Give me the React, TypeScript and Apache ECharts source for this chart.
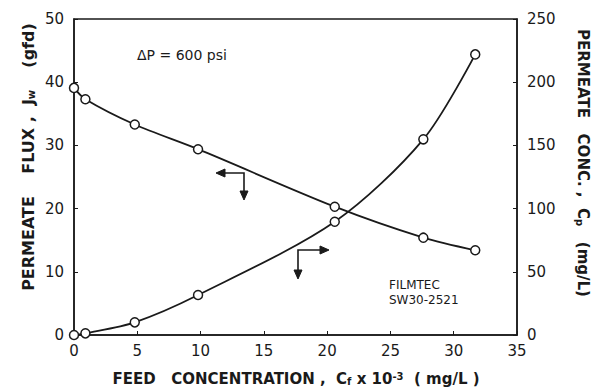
import React, { useEffect, useRef } from "react";
import * as echarts from "echarts";

const feedConc = [0, 0.9, 4.8, 9.8, 20.6, 27.6, 31.7];
const fluxValues = [39.1, 37.3, 33.3, 29.4, 20.3, 15.4, 13.4];
const permConcValues = [0, 1.3, 10, 31.6, 89.6, 154.8, 222];

const FONT = "DejaVu Sans";

export default function App() {
  const ref = useRef<HTMLDivElement>(null);
  useEffect(() => {
    if (!ref.current) return;
    const chart = echarts.init(ref.current, null, { renderer: "svg" });
    const fluxData = feedConc.map((x, i) => [x, fluxValues[i]]);
    const concData = feedConc.map((x, i) => [x, permConcValues[i]]);
    const black = "#1a1a1a";
    const head = (pts: number[][]) => ({
      type: "polygon",
      shape: { points: pts },
      style: { fill: black, stroke: black, lineWidth: 1 },
    });
    chart.setOption({
      animation: false,
      backgroundColor: "#ffffff",
      grid: {
        left: 74,
        right: 78,
        top: 19,
        bottom: 53,
        show: true,
        borderColor: black,
        borderWidth: 1.5,
        backgroundColor: "transparent",
      },
      xAxis: {
        type: "value",
        min: 0,
        max: 35,
        interval: 5,
        axisLine: { lineStyle: { color: black, width: 1.5 } },
        axisTick: { inside: true, length: 4, lineStyle: { color: black } },
        axisLabel: { color: black, fontFamily: FONT, fontSize: 15, margin: 8 },
        splitLine: { show: false },
      },
      yAxis: [
        {
          type: "value",
          min: 0,
          max: 50,
          interval: 10,
          axisLine: { show: true, lineStyle: { color: black, width: 1.5 } },
          axisTick: { show: true, inside: true, length: 4, lineStyle: { color: black } },
          axisLabel: { color: black, fontFamily: FONT, fontSize: 15, margin: 10 },
          splitLine: { show: false },
        },
        {
          type: "value",
          min: 0,
          max: 250,
          interval: 50,
          position: "right",
          axisLine: { show: true, lineStyle: { color: black, width: 1.5 } },
          axisTick: { show: true, inside: true, length: 4, lineStyle: { color: black } },
          axisLabel: { color: black, fontFamily: FONT, fontSize: 15, margin: 10 },
          splitLine: { show: false },
        },
      ],
      series: [
        {
          type: "line",
          name: "flux",
          yAxisIndex: 0,
          data: fluxData,
          smooth: 0.3,
          symbol: "circle",
          symbolSize: 9,
          clip: false,
          lineStyle: { color: black, width: 1.8 },
          itemStyle: { color: "#ffffff", borderColor: black, borderWidth: 1.5 },
        },
        {
          type: "line",
          name: "conc",
          yAxisIndex: 1,
          data: concData,
          smooth: 0.3,
          symbol: "circle",
          symbolSize: 9,
          clip: false,
          lineStyle: { color: black, width: 1.8 },
          itemStyle: { color: "#ffffff", borderColor: black, borderWidth: 1.5 },
        },
      ],
      graphic: [
        {
          type: "text",
          x: 296,
          y: 371,
          style: {
            text: "FEED   CONCENTRATION ,  C{sub|f} x 10{sup|-3}  ( mg/L )",
            fill: black,
            font: `bold 15px ${FONT}`,
            align: "center",
            verticalAlign: "top",
            rich: {
              sub: { font: `bold 10px ${FONT}`, fill: black, verticalAlign: "bottom" },
              sup: { font: `bold 10px ${FONT}`, fill: black, verticalAlign: "top" },
            },
          },
        },
        {
          type: "text",
          x: 28,
          y: 157,
          rotation: Math.PI / 2,
          style: {
            text: "PERMEATE    FLUX ,  J{sub|w}    (gfd)",
            fill: black,
            font: `bold 16px ${FONT}`,
            align: "center",
            verticalAlign: "middle",
            rich: {
              sub: { font: `bold 10px ${FONT}`, fill: black, padding: [7, 0, 0, 0] },
            },
          },
        },
        {
          type: "text",
          x: 583,
          y: 163,
          rotation: -Math.PI / 2,
          style: {
            text: "PERMEATE   CONC. ,  C{sub|p}   (mg/L)",
            fill: black,
            font: `bold 15px ${FONT}`,
            align: "center",
            verticalAlign: "middle",
            rich: {
              sub: { font: `bold 10px ${FONT}`, fill: black, padding: [7, 0, 0, 0] },
            },
          },
        },
        {
          type: "text",
          x: 137,
          y: 55,
          style: {
            text: "ΔP = 600 psi",
            fill: black,
            font: `14px ${FONT}`,
            align: "left",
            verticalAlign: "middle",
          },
        },
        {
          type: "text",
          x: 389,
          y: 285,
          style: {
            text: "FILMTEC",
            fill: black,
            font: `12px ${FONT}`,
            align: "left",
            verticalAlign: "middle",
          },
        },
        {
          type: "text",
          x: 389,
          y: 300,
          style: {
            text: "SW30-2521",
            fill: black,
            font: `12px ${FONT}`,
            align: "left",
            verticalAlign: "middle",
          },
        },
        {
          type: "polyline",
          shape: { points: [[224, 173], [244, 173], [244, 192]] },
          style: { stroke: black, lineWidth: 1.6, fill: null },
        },
        head([[216, 173], [225, 169], [225, 177]]),
        head([[244, 200], [240, 191], [248, 191]]),
        {
          type: "polyline",
          shape: { points: [[298, 278], [298, 250], [321, 250]] },
          style: { stroke: black, lineWidth: 1.6, fill: null },
        },
        head([[329, 250], [320, 246], [320, 254]]),
        head([[298, 279], [294, 270], [302, 270]]),
      ],
    });
    return () => chart.dispose();
  }, []);
  return <div ref={ref} style={{ width: 595, height: 388, position: "absolute", left: 0, top: 0 }} />;
}
